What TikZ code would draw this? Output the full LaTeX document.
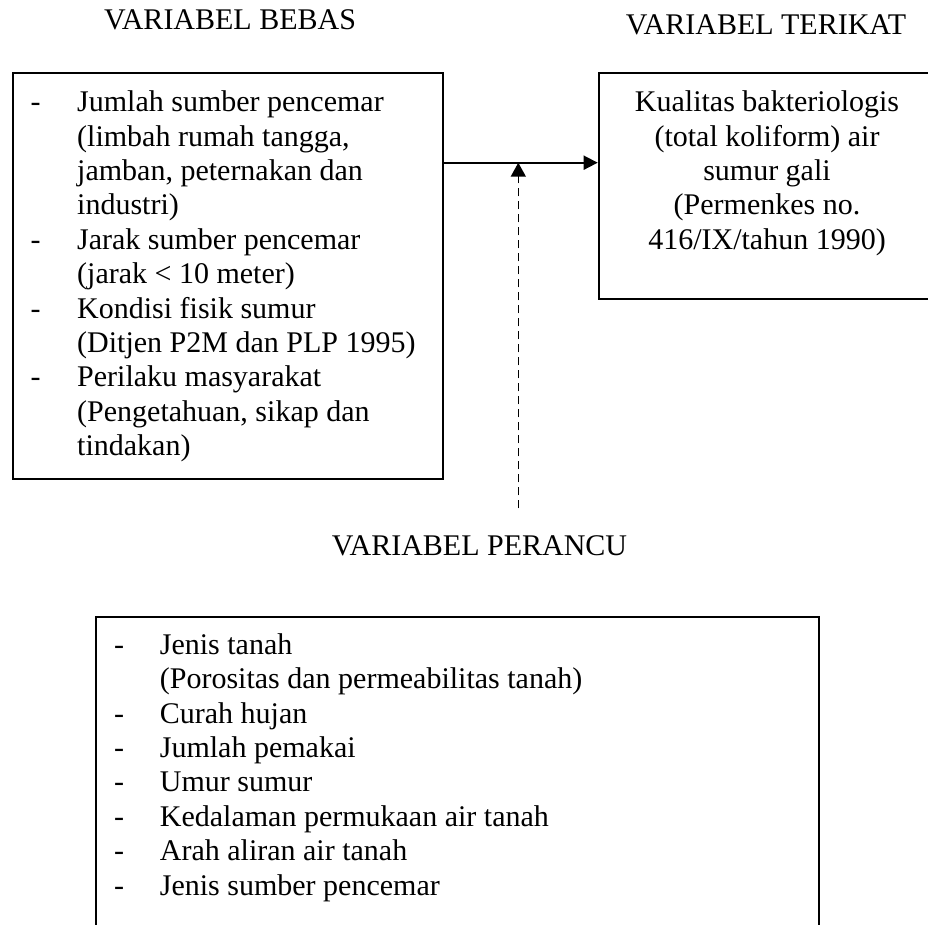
\documentclass[tikz,border=0pt]{standalone}
\usepackage{fontspec}
\setmainfont{Liberation Serif}
\usetikzlibrary{arrows.meta}
\begin{document}
\begin{tikzpicture}[x=1pt,y=-1pt,
  box/.style={draw, line width=2pt, inner sep=0pt, anchor=north west},
  txt/.style={inner sep=0pt, font=\fontsize{30pt}{34.4pt}\selectfont},
  title/.style={txt, anchor=base},
  listtxt/.style={txt, anchor=base west},
  conn/.style={line width=1.8pt, -{Triangle[length=14pt,width=14pt]}},
  dconn/.style={line width=1.6pt, dash pattern=on 8pt off 5pt, -{Triangle[length=14pt,width=15pt]}}]
\clip (0,0) rectangle (928,925);
% titles
\node[title] (tbebas) at (230,30) {VARIABEL BEBAS};
\node[title] (tterikat) at (766,35) {VARIABEL TERIKAT};
\node[title] (tperancu) at (479.5,555) {VARIABEL PERANCU};
% boxes
\node[box, minimum width=429.7pt, minimum height=406pt] (bebas) at (12,72.3) {};
\node[box, minimum width=338.3pt, minimum height=225.2pt] (terikat) at (597.7,72.3) {};
\node[box, minimum width=723.6pt, minimum height=400pt] (perancu) at (94.7,615.7) {};
% box texts
\node[listtxt] (bebastxt) at (30.5,111.7) {\begin{tabular}[t]{@{}p{46.5pt}@{}l@{}}
- & Jumlah sumber pencemar\\
  & (limbah rumah tangga,\\
  & jamban, peternakan dan\\
  & industri)\\
- & Jarak sumber pencemar\\
  & (jarak < 10 meter)\\
- & Kondisi fisik sumur\\
  & (Ditjen P2M dan PLP 1995)\\
- & Perilaku masyarakat\\
  & (Pengetahuan, sikap dan\\
  & tindakan)
\end{tabular}};
\node[title] (terikattxt) at (767,111.7) {\begin{tabular}[t]{@{}c@{}}
Kualitas bakteriologis\\
(total koliform) air\\
sumur gali\\
(Permenkes no.\\
416/IX/tahun 1990)
\end{tabular}};
\node[listtxt] (perancutxt) at (114,654.3) {\begin{tabular}[t]{@{}p{45.7pt}@{}l@{}}
- & Jenis tanah\\
  & (Porositas dan permeabilitas tanah)\\
- & Curah hujan\\
- & Jumlah pemakai\\
- & Umur sumur\\
- & Kedalaman permukaan air tanah\\
- & Arah aliran air tanah\\
- & Jenis sumber pencemar
\end{tabular}};
% connectors
\coordinate (mid) at (518.3,162.7);
\coordinate (pstart) at (518.3,508.3);
\draw[conn] (bebas.east |- mid) -- (terikat.west |- mid);
\draw[dconn] (pstart) -- (mid);
\end{tikzpicture}
\end{document}
